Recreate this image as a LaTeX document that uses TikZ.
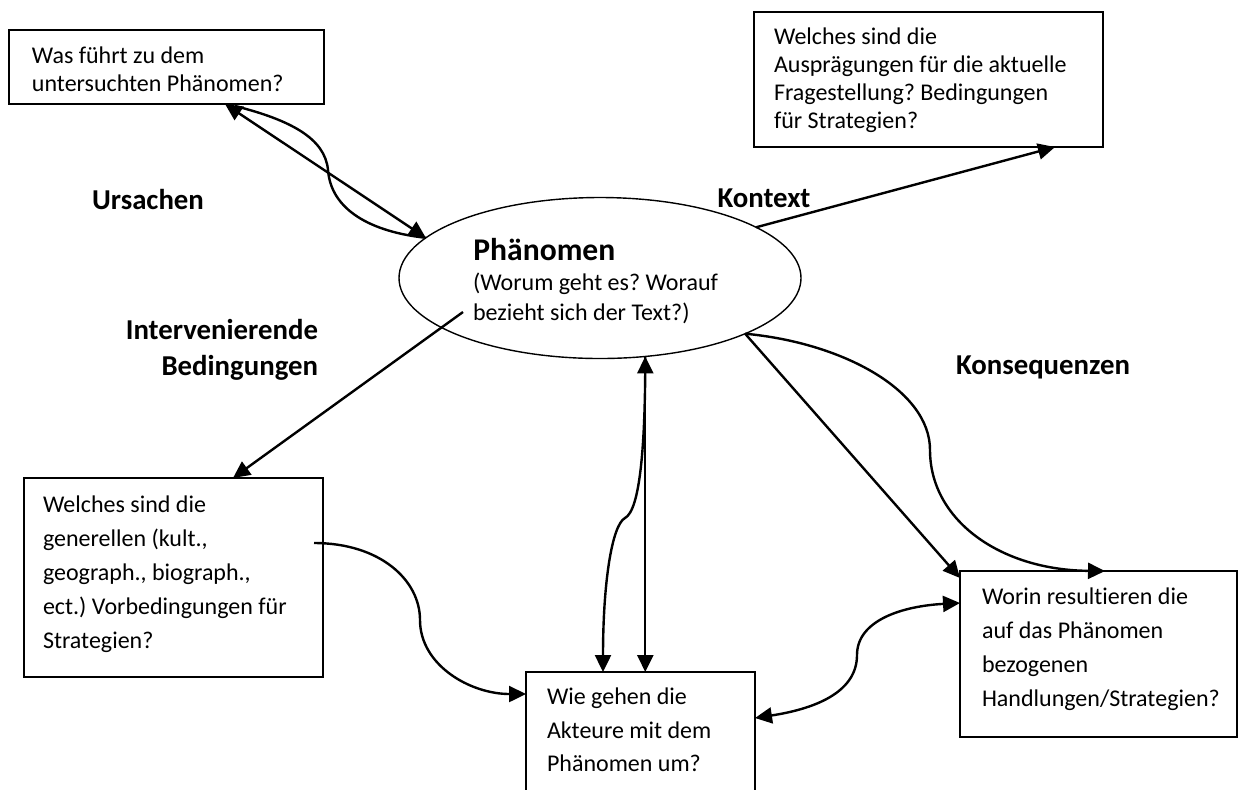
\documentclass[tikz,border=0pt]{standalone}
\usepackage{fontspec}
\setmainfont{Carlito}[Ligatures=NoCommon]
\usetikzlibrary{arrows.meta,calc,shapes.geometric}
\frenchspacing
\begin{document}
\begin{tikzpicture}[x=0.5pt,y=-0.5pt,
  box/.style={draw, line width=0.9pt, inner sep=0, outer sep=0, anchor=north west},
  txt/.style={inner sep=0, outer sep=0, anchor=north west, align=left, font=\fontsize{12}{17}\selectfont},
  lbl/.style={inner sep=0, outer sep=0, font=\bfseries\fontsize{14.4}{18}\selectfont},
  conn/.style={line width=1.2pt, -{Triangle[length=8.5pt,width=8pt]}},
  bi/.style={line width=1.2pt, {Triangle[length=8.5pt,width=8pt]}-{Triangle[length=8.5pt,width=8pt]}},
  plain/.style={line width=1.2pt}]
\useasboundingbox (0,0) rectangle (1251,789);
% boxes
\node[box, minimum width=157.5pt, minimum height=37pt] (tl) at (9,30) {};
\node[txt, font=\fontsize{12}{14}\selectfont] (tlt) at (32,47) {Was führt zu dem\\untersuchten Phänomen?};
\node[box, minimum width=174.5pt, minimum height=67.5pt] (tr) at (754,12) {};
\node[txt, font=\fontsize{12}{14}\selectfont] (trt) at (774,28) {Welches sind die\\Ausprägungen für die aktuelle\\Fragestellung? Bedingungen\\für Strategien?};
\node[draw, ellipse, line width=0.7pt, minimum width=201pt, minimum height=80.5pt, inner sep=0, outer sep=0] (ph) at (600,278) {};
\node[anchor=base west, inner sep=0, font=\bfseries\fontsize{15.8}{19}\selectfont] (pht) at (473,260) {Phänomen};
\node[txt, font=\fontsize{12}{15}\selectfont] (phs) at (473,273) {(Worum geht es? Worauf\\bezieht sich der Text?)};
\node[box, minimum width=149.5pt, minimum height=99.5pt] (lb) at (24,478) {};
\node[txt] (lbt) at (43,496) {Welches sind die\\generellen (kult.,\\geograph., biograph.,\\ect.) Vorbedingungen für\\Strategien?};
\node[box, minimum width=114.5pt, minimum height=64pt] (bc) at (526,672) {};
\node[txt, font=\fontsize{12}{16.75}\selectfont] (bct) at (547,688) {Wie gehen die\\Akteure mit dem\\Phänomen um?};
\node[box, minimum width=138.5pt, minimum height=83pt] (rb) at (960,571) {};
\node[txt] (rbt) at (982,588) {Worin resultieren die\\auf das Phänomen\\bezogenen\\Handlungen/Strategien?};
% labels
\node[lbl] (ursachen) at (148,199) {Ursachen};
\node[lbl] (kontext) at (764,198) {Kontext};
\node[lbl, anchor=north east, align=right] (interv) at (318,319) {Intervenierende\\Bedingungen};
\node[lbl] (konseq) at (1043,367) {Konsequenzen};
% coordinates
\coordinate (tlA) at ($(tl.south west)+(216,0)$);
\coordinate (uS) at ($(tl.south west)+(226,2)$);
\coordinate (uM) at (328,170);
\coordinate (trA) at ($(tr.south west)+(301,0)$);
\coordinate (iS) at ($(ph.center)+(-137,34)$);
\coordinate (lbA) at ($(lb.north west)+(209,0)$);
\coordinate (lS) at ($(lb.north west)+(290,65)$);
\coordinate (lM) at (420,620);
\coordinate (bcL) at ($(bc.north west)+(0,22)$);
\coordinate (vK) at (625,518);
\coordinate (vB) at ($(bc.north west)+(77,0)$);
\coordinate (rbA) at ($(rb.north west)+(0,7)$);
\coordinate (kM) at (930,450);
\coordinate (rbB) at ($(rb.north west)+(145,0)$);
\coordinate (bcR) at ($(bc.north east)+(0,46)$);
\coordinate (cM) at (857,655);
\coordinate (rbL) at ($(rb.north west)+(0,32)$);
% connectors
\draw[bi] (tlA) -- (ph.167);
\draw[plain] (uS) .. controls +(55,14) and +(-3,-32) .. (uM) .. controls +(3,40) and +(-55,-6) .. (ph.167);
\draw[conn] (ph.18) -- (trA);
\draw[conn] (iS) -- (lbA);
\draw[conn] (lS) .. controls +(66,0) and +(0,-40) .. (lM) .. controls +(0,45) and +(-56,0) .. (bcL);
\draw[bi] (ph.-60) -- (ph.-60 |- bc.north);
\draw[conn] (ph.-60) .. controls +(0,90) and +(15,-8) .. (vK) .. controls +(-13,7) and +(0,-90) .. (vB);
\draw[conn] (ph.-21) -- (rbA);
\draw[conn] (ph.-21) .. controls +(97,9) and +(0,-60) .. (kM) .. controls +(0,70) and +(-105,-1) .. (rbB);
\draw[bi] (bcR) .. controls +(65,-10) and +(0,35) .. (cM) .. controls +(0,-35) and +(-57,3) .. (rbL);
\end{tikzpicture}
\end{document}
